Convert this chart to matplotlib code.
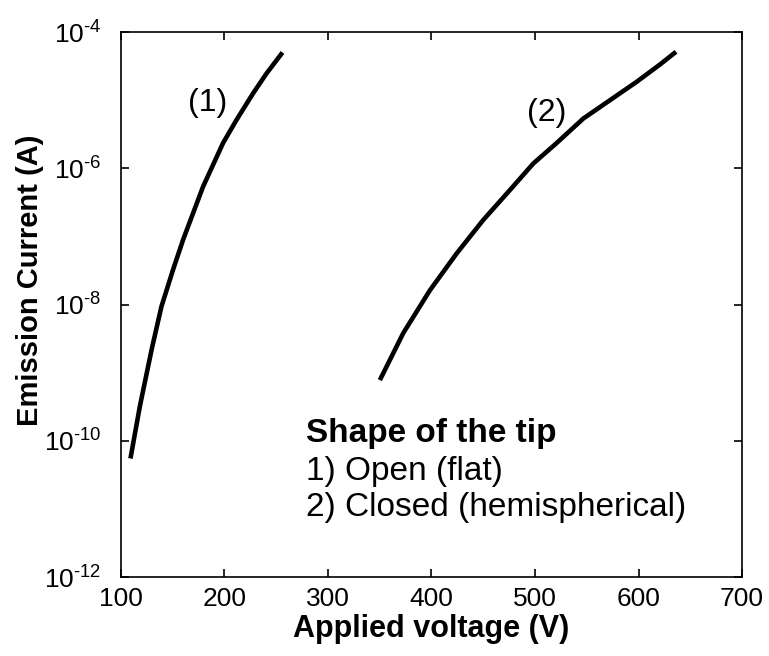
import numpy as np
import matplotlib
matplotlib.use("Agg")
import matplotlib.pyplot as plt

plt.rcParams['font.family'] = ['Liberation Sans', 'DejaVu Sans']
plt.rcParams['mathtext.fontset'] = 'custom'
plt.rcParams['mathtext.rm'] = 'Liberation Sans'
plt.rcParams['mathtext.it'] = 'Liberation Sans'

# curve (1): open (flat) tip
v_open = [109.4, 118.4, 129.7, 139.3, 150.5, 160.2, 179.5, 198.8, 211.8, 227.8, 240.7, 256.2]
log_i_open = [-10.26, -9.50, -8.67, -8.03, -7.49, -7.05, -6.27, -5.63, -5.29, -4.90, -4.61, -4.30]

# curve (2): closed (hemispherical) tip
v_closed = [350.2, 372.8, 398.6, 424.4, 450.0, 475.8, 498.4, 520.9, 546.7, 572.5, 598.3, 621.3, 636.2]
log_i_closed = [-9.11, -8.42, -7.79, -7.25, -6.76, -6.32, -5.93, -5.63, -5.27, -5.00, -4.73, -4.47, -4.29]

y_ticks = [-12, -10, -8, -6, -4]
x_ticks = [100, 200, 300, 400, 500, 600, 700]

i_open = 10.0 ** np.array(log_i_open)
i_closed = 10.0 ** np.array(log_i_closed)

fig = plt.figure(figsize=(7.69, 6.56), dpi=100)
ax = fig.add_axes([0.157, 0.1204, 0.808, 0.8308])

ax.semilogy(v_open, i_open, color='black', lw=3.3, solid_capstyle='butt', solid_joinstyle='round')
ax.semilogy(v_closed, i_closed, color='black', lw=3.3, solid_capstyle='butt', solid_joinstyle='round')

ax.set_xlim(100, 700)
ax.set_ylim(1e-12, 1e-4)
ax.set_xticks(x_ticks)
ax.set_yticks([10.0 ** e for e in y_ticks])
ax.set_yticklabels([r'$10^{\text{%d}}$' % e for e in y_ticks])
ax.minorticks_off()
ax.tick_params(direction='in', top=True, right=True, length=6, width=1.2,
               labelsize=19)
ax.tick_params(axis='x', pad=7)
ax.tick_params(axis='y', pad=14)
for s in ax.spines.values():
    s.set_linewidth(1.2)

ax.set_xlabel('Applied voltage (V)', fontsize=22, fontweight='bold')
ax.set_ylabel('Emission Current (A)', fontsize=21, fontweight='bold')
ax.xaxis.set_label_coords(0.5, -0.068)
ax.yaxis.set_label_coords(-0.124, 0.545)

ax.text(184, 9e-6, '(1)', fontsize=23, ha='center', va='center')
ax.text(511, 6.5e-6, '(2)', fontsize=23, ha='center', va='center')

ax.text(0.298, 0.264, 'Shape of the tip', transform=ax.transAxes,
        fontsize=24, fontweight='bold', va='center')
ax.text(0.298, 0.193, '1) Open (flat)', transform=ax.transAxes,
        fontsize=24, va='center')
ax.text(0.298, 0.127, '2) Closed (hemispherical)', transform=ax.transAxes,
        fontsize=24, va='center')

fig.savefig('out.png', dpi=100)
